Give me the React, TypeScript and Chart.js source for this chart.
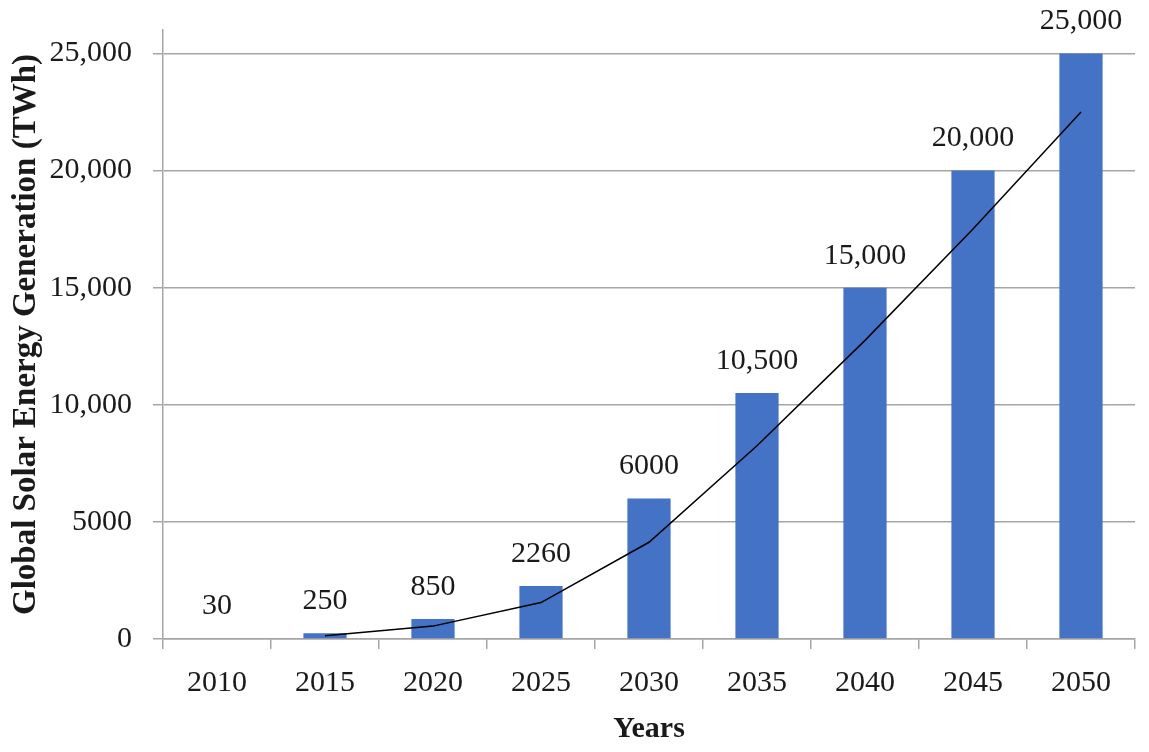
import React, { useEffect, useRef } from 'react';
import { Chart, registerables, Plugin } from 'chart.js';

Chart.register(...registerables);

const years = ['2010', '2015', '2020', '2025', '2030', '2035', '2040', '2045', '2050'];
const generation = [30, 250, 850, 2260, 6000, 10500, 15000, 20000, 25000];
const generationLabels = ['30', '250', '850', '2260', '6000', '10,500', '15,000', '20,000', '25,000'];
// 2-period moving average trend line
const trend = [null, 140, 550, 1555, 4130, 8250, 12750, 17500, 22500];
const yTickValues = [0, 5000, 10000, 15000, 20000, 25000];
const yTickLabels = ['0', '5000', '10,000', '15,000', '20,000', '25,000'];

const FONT = "'Liberation Serif', 'Times New Roman', serif";
const TEXT = '#1a1a1a';
const GRID = '#a6a6a6';

const barLabels: Plugin<'bar'> = {
    id: 'barLabels',
    afterDatasetsDraw(chart) {
        const meta = chart.getDatasetMeta(0);
        const ctx = chart.ctx;
        ctx.save();
        ctx.font = `30px ${FONT}`;
        ctx.fillStyle = TEXT;
        ctx.textAlign = 'center';
        ctx.textBaseline = 'middle';
        meta.data.forEach((el, i) => {
            ctx.fillText(generationLabels[i], el.x, el.y - 32);
        });
        ctx.restore();
    }
};

const App: React.FC = () => {
    const canvasRef = useRef<HTMLCanvasElement>(null);
    const chartRef = useRef<Chart>();

    useEffect(() => {
        if (!canvasRef.current) return;
        const ctx = canvasRef.current.getContext('2d');
        if (!ctx) return;
        if (chartRef.current) chartRef.current.destroy();

        chartRef.current = new Chart(ctx, {
            type: 'bar',
            data: {
                labels: years,
                datasets: [
                    {
                        type: 'bar',
                        label: 'Global Solar Energy Generation',
                        data: generation,
                        backgroundColor: '#4472C4',
                        barPercentage: 0.4,
                        categoryPercentage: 1,
                        order: 1
                    },
                    {
                        type: 'line',
                        label: 'Trend',
                        data: trend,
                        borderColor: '#000000',
                        borderWidth: 1.5,
                        pointRadius: 0,
                        fill: false,
                        tension: 0,
                        order: 0
                    }
                ]
            } as any,
            options: {
                animation: false,
                responsive: false,
                layout: {
                    padding: { top: 30, right: 14, left: 0, bottom: 0 }
                },
                plugins: {
                    legend: { display: false },
                    tooltip: { enabled: false }
                },
                scales: {
                    x: {
                        grid: {
                            drawOnChartArea: false,
                            drawTicks: true,
                            tickLength: 10,
                            color: GRID,
                            lineWidth: 1.5
                        },
                        border: { display: true, color: GRID, width: 1.5 },
                        ticks: {
                            font: { family: FONT, size: 30 },
                            color: TEXT,
                            padding: 16,
                            maxRotation: 0
                        },
                        title: {
                            display: true,
                            text: 'Years',
                            font: { family: FONT, size: 30, weight: 'bold' },
                            color: TEXT,
                            padding: { top: 0, bottom: 5 }
                        },
                        afterFit: (scale: any) => {
                            scale.height = 113;
                            scale.paddingLeft = 0;
                            scale.paddingRight = 0;
                        }
                    },
                    y: {
                        min: 0,
                        max: 26000,
                        afterBuildTicks: (scale: any) => {
                            scale.ticks = yTickValues.map((v) => ({ value: v }));
                        },
                        grid: {
                            drawTicks: true,
                            tickLength: 10,
                            color: GRID,
                            lineWidth: 1.5
                        },
                        border: { display: true, color: GRID, width: 1.5 },
                        ticks: {
                            font: { family: FONT, size: 30 },
                            color: TEXT,
                            padding: 21,
                            callback: (value: string | number) => {
                                const i = yTickValues.indexOf(Number(value));
                                return i >= 0 ? yTickLabels[i] : '';
                            }
                        },
                        title: {
                            display: true,
                            text: 'Global Solar Energy Generation (TWh)',
                            font: { family: FONT, size: 33, weight: 'bold' },
                            color: TEXT,
                            padding: { top: 7, bottom: 0 }
                        },
                        afterFit: (scale: any) => {
                            scale.width = 163;
                            scale.paddingTop = 0;
                            scale.paddingBottom = 0;
                        }
                    }
                }
            } as any,
            plugins: [barLabels as any]
        });

        return () => {
            if (chartRef.current) {
                chartRef.current.destroy();
                chartRef.current = undefined;
            }
        };
    }, []);

    return (
        <div style={{ position: 'fixed', left: 0, top: 0, width: 1149, height: 752, background: '#ffffff' }}>
            <canvas ref={canvasRef} width={1149} height={752} style={{ width: 1149, height: 752 }}></canvas>
        </div>
    );
};

export default App;
